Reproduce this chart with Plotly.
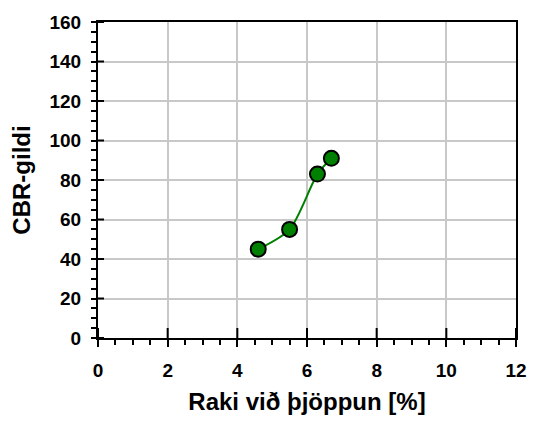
import plotly.graph_objects as go

moisture = [4.6, 5.5, 6.3, 6.7]
cbr = [45, 55, 83, 91]

x_ticks = [0, 2, 4, 6, 8, 10, 12]
y_ticks = [0, 20, 40, 60, 80, 100, 120, 140, 160]

FONT = "Liberation Sans"

fig = go.Figure()
fig.add_trace(go.Scatter(
    x=moisture, y=cbr, mode="lines+markers",
    line=dict(color="#008000", width=2, shape="spline", smoothing=0.8),
    marker=dict(size=15, color="#008000", line=dict(color="black", width=2)),
    showlegend=False, cliponaxis=False,
))

# inner halves of the major ticks (major ticks cross the axis line)
for v in x_ticks:
    fig.add_shape(type="line", xref="x", yref="y", x0=v, x1=v,
                  ysizemode="pixel", yanchor=0, y0=0, y1=10,
                  line=dict(color="black", width=2), layer="above")
for v in y_ticks:
    fig.add_shape(type="line", xref="x", yref="y", y0=v, y1=v,
                  xsizemode="pixel", xanchor=0, x0=0, x1=6,
                  line=dict(color="black", width=2), layer="above")

axis_common = dict(showline=True, linecolor="black", linewidth=2, mirror=True,
                   gridcolor="#c8c8c8", gridwidth=2, zeroline=False,
                   ticks="outside", tickwidth=2, tickcolor="black",
                   tickfont=dict(family=FONT, size=19, color="black", weight="bold"))

fig.update_layout(
    width=539, height=423,
    margin=dict(l=98, r=21, t=18, b=82),
    paper_bgcolor="white", plot_bgcolor="white",
    xaxis=dict(range=[0, 12], tickvals=x_ticks,
               ticktext=[f"<b>{v}</b>" for v in x_ticks],
               ticklen=7, ticklabelstandoff=7,
               minor=dict(dtick=0.5, ticks="outside", ticklen=5, tickwidth=1.5,
                          tickcolor="black", showgrid=False),
               title=dict(text="<b>Raki við þjöppun [%]</b>", standoff=13,
                          font=dict(family=FONT, size=24, color="black")),
               **axis_common),
    yaxis=dict(range=[0, 160], tickvals=y_ticks,
               ticktext=[f"<b>{v}</b>" for v in y_ticks],
               ticklen=5, ticklabelstandoff=6,
               minor=dict(dtick=5, ticks="outside", ticklen=5, tickwidth=1.5,
                          tickcolor="black", showgrid=False),
               title=dict(text="<b>CBR-gildi</b>", standoff=12,
                          font=dict(family=FONT, size=24, color="black")),
               **axis_common),
)

fig.write_html("out.html")
